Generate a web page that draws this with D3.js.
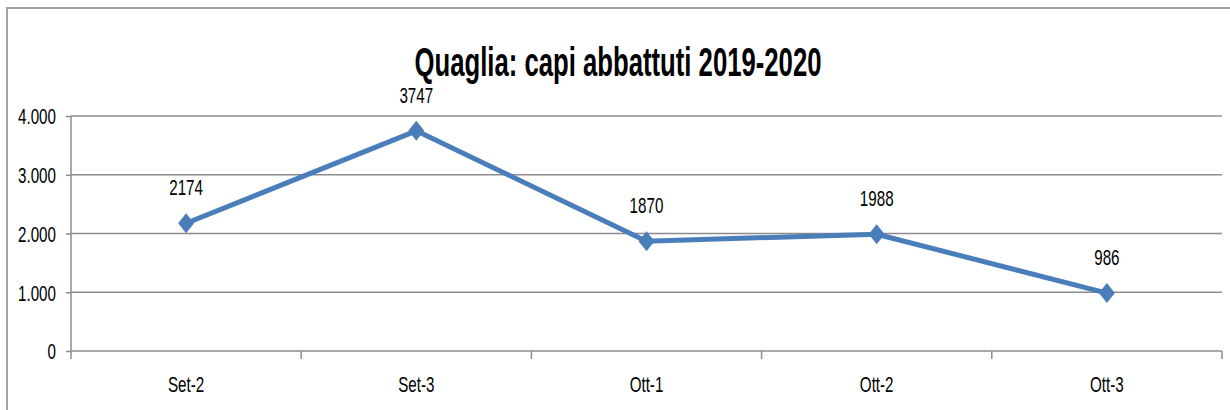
<!DOCTYPE html>
<html>
<head>
<meta charset="utf-8">
<script src="https://cdn.jsdelivr.net/npm/d3@7"></script>
<style>
  body { margin: 0; background: #fff; }
  text { font-family: "Liberation Sans", Arial, sans-serif; fill: #000; }
</style>
</head>
<body>
<svg id="chart" width="1230" height="410"></svg>
<script>
"use strict";

var categories = ["Set-2", "Set-3", "Ott-1", "Ott-2", "Ott-3"];
var values = [2174, 3747, 1870, 1988, 986];
var yTicks = [0, 1000, 2000, 3000, 4000];
var title = "Quaglia: capi abbattuti 2019-2020";

var svg = d3.select("#chart");
var SX = 0.69; // text is drawn narrow, like the original
var FS = 22;

var plotL = 71, plotR = 1222, plotT = 116, plotB = 351;

// outer frame
svg.append("rect")
   .attr("x", 7).attr("y", 8)
   .attr("width", 1240).attr("height", 420)
   .attr("fill", "none")
   .attr("stroke", "#a3a3a3")
   .attr("stroke-width", 2);

var x = d3.scaleBand().domain(categories).range([plotL, plotR]).padding(0);
var y = d3.scaleLinear().domain([0, 4000]).range([plotB, plotT]);
var cx = d => x(d) + x.bandwidth() / 2;

var fmt = d3.formatLocale({decimal: ",", thousands: ".", grouping: [3], currency: ["", "€"]}).format(",d");

// gridlines
svg.append("g")
   .selectAll("line")
   .data(yTicks.filter(v => v > 0))
   .enter()
   .append("line")
   .attr("x1", plotL).attr("x2", plotR)
   .attr("y1", d => y(d)).attr("y2", d => y(d))
   .attr("stroke", "#8c8c8c")
   .attr("stroke-width", 1.5);

// y axis
var yAxis = svg.append("g")
   .attr("transform", "translate(" + plotL + ",0)")
   .call(d3.axisLeft(y).tickValues(yTicks).tickSize(5).tickFormat(fmt));
yAxis.select(".domain").remove();
yAxis.selectAll(".tick line").attr("stroke", "#8c8c8c").attr("stroke-width", 1.5);
yAxis.selectAll(".tick text")
     .attr("font-size", FS)
     .attr("font-family", "Liberation Sans, Arial, sans-serif")
     .attr("fill", "#000")
     .attr("x", -15 / SX)
     .attr("dy", "0.36em")
     .attr("transform", "scale(" + SX + ",1)");
yAxis.append("line")
     .attr("x1", 0).attr("x2", 0)
     .attr("y1", plotT).attr("y2", plotB + 8)
     .attr("stroke", "#8c8c8c").attr("stroke-width", 1.5);

// x axis
var xg = svg.append("g");
xg.append("line")
  .attr("x1", plotL).attr("x2", plotR)
  .attr("y1", plotB).attr("y2", plotB)
  .attr("stroke", "#8c8c8c").attr("stroke-width", 1.5);
xg.selectAll(".xtick")
  .data(categories.slice(1).concat(["end"]))
  .enter()
  .append("line")
  .attr("x1", d => d == "end" ? plotR : x(d))
  .attr("x2", d => d == "end" ? plotR : x(d))
  .attr("y1", plotB).attr("y2", plotB + 8)
  .attr("stroke", "#8c8c8c").attr("stroke-width", 1.5);
xg.selectAll(".xlab")
  .data(categories)
  .enter()
  .append("text")
  .attr("transform", d => "translate(" + cx(d) + ",392) scale(" + SX + ",1)")
  .attr("text-anchor", "middle")
  .attr("font-size", FS)
  .text(d => d);

// line
var pts = categories.map((c, i) => ({c: c, v: values[i]}));
svg.append("path")
   .datum(pts)
   .attr("d", d3.line().x(d => cx(d.c)).y(d => y(d.v)))
   .attr("fill", "none")
   .attr("stroke", "#4a7ebb")
   .attr("stroke-width", 5)
   .attr("stroke-linejoin", "round");

// diamond markers
svg.append("g")
   .selectAll("path")
   .data(pts)
   .enter()
   .append("path")
   .attr("d", d => {
     let px = cx(d.c), py = y(d.v);
     return "M" + px + "," + (py - 10) + "L" + (px + 8) + "," + py +
            "L" + px + "," + (py + 10) + "L" + (px - 8) + "," + py + "Z";
   })
   .attr("fill", "#4a7ebb");

// data labels
svg.append("g")
   .selectAll("text")
   .data(pts)
   .enter()
   .append("text")
   .attr("transform", d => "translate(" + cx(d.c) + "," + (y(d.v) - 28) + ") scale(" + SX + ",1)")
   .attr("text-anchor", "middle")
   .attr("font-size", FS)
   .text(d => d.v);

// title
svg.append("text")
   .attr("x", 618)
   .attr("y", 76)
   .attr("text-anchor", "middle")
   .attr("font-size", 40)
   .attr("font-weight", "bold")
   .attr("textLength", 407)
   .attr("lengthAdjust", "spacingAndGlyphs")
   .text(title);
</script>
</body>
</html>
